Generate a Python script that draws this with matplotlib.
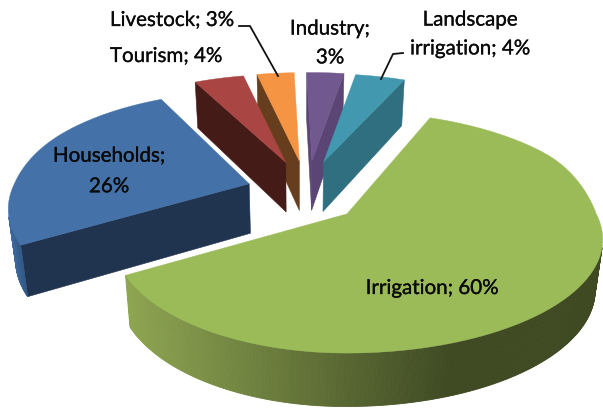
import numpy as np
import matplotlib
matplotlib.use("Agg")
import matplotlib.pyplot as plt
import matplotlib.patheffects as pe

categories = ["Irrigation", "Households", "Tourism", "Livestock", "Industry", "Landscape irrigation"]
values = [60, 26, 4, 3, 3, 4]
explode = [0.24, 0.24, 0.32, 0.32, 0.32, 0.32]

top_colors = ["#9bbb59", "#4371a8", "#a94644", "#f59443", "#71588f", "#4198af"]
cut_colors = ["#5f7530", "#20344f", "#451b18", "#663e1d", "#5a4575", "#2f6f80"]
# rim gradient in screen x: left colour, right colour, x range
rim_left = ["#8ea551", "#3f6da3", "#451b18", "#663e1d", "#5a4575", "#2f6f80"]
rim_right = ["#3f4a23", "#2a4a70", "#451b18", "#663e1d", "#5a4575", "#2f6f80"]
rim_range = [(125, 450), (6, 30), (0, 1), (0, 1), (0, 1), (0, 1)]
# small corrections per slice, the picture is not a clean projection
back_lift = [14, 4, 0, 0, 0, 0]
nudge_x = [-3, -1, 5, 3, 2, -2]
nudge_y = [3, -2, 0, 0, 0, 0]
stretch_right = [1.03, 1, 1, 1, 1, 1]
stretch_left = [0.94, 0.97, 1, 1, 1, 1]

# projection of the tilted pie, fitted by eye to the picture
center = (305, 193)
scale_x, scale_y, persp = 242, 108, 0.224
start_angle = 23.7
vanish_x = 300


def unit(phi):
    rad = np.radians(phi)
    return np.sin(rad), np.cos(rad)


def project(x, y):
    w = 1 / (1 + persp * y)
    return scale_x * x * w, -scale_y * y * w


def lower(pt):
    # same point on the bottom of the slab
    y_model = -pt[2]
    return (vanish_x + (pt[0] - vanish_x) * 0.975, pt[1] + 49.5 - 4 * y_model, pt[2])


def shoelace(poly):
    area = 0
    for i in range(len(poly)):
        a, b = poly[i], poly[(i + 1) % len(poly)]
        area += a[0] * b[1] - b[0] * a[1]
    return area


def mix(c0, c1, t):
    a = np.array(matplotlib.colors.to_rgb(c0))
    b = np.array(matplotlib.colors.to_rgb(c1))
    return tuple(a + (b - a) * np.clip(t, 0, 1))


fig = plt.figure(figsize=(6.03, 4.08), dpi=100)
ax = fig.add_axes([0, 0, 1, 1])
ax.set_xlim(0, 603)
ax.set_ylim(408, 0)
ax.axis("off")

fractions = np.cumsum([0] + values) / sum(values)

# back slices first, the big ones sit in front
for i in [3, 4, 2, 5, 1, 0]:
    phi0 = start_angle + 360 * fractions[i]
    phi1 = start_angle + 360 * fractions[i + 1]
    mx, my = unit((phi0 + phi1) / 2)
    ex, ey = project(mx * explode[i], my * explode[i])
    ax_, ay_ = center[0] + ex + nudge_x[i], center[1] + ey + nudge_y[i]

    rim = []
    for phi in np.linspace(phi0, phi1, max(int(phi1 - phi0), 4) * 2):
        x, y = unit(phi)
        dx, dy = project(x, y)
        dx *= stretch_right[i] if x > 0 else stretch_left[i]
        dy -= back_lift[i] * np.sin(np.pi / 2 * np.clip(y / 0.5, 0, 1))
        # third item keeps the model depth negated for the lower() helper
        rim.append((ax_ + dx, ay_ + dy, -y))
    apex = (ax_, ay_, 0.0)

    # straight cut faces
    for p, q in [(apex, rim[0]), (rim[-1], apex)]:
        quad = [p, q, lower(q), lower(p)]
        if shoelace(quad) < 0:
            ax.fill([c[0] for c in quad], [c[1] for c in quad], color=cut_colors[i], lw=0.4)

    # outer rim, one small quad per step for the gradient
    x0, x1 = rim_range[i]
    for p, q in zip(rim[:-1], rim[1:]):
        quad = [p, q, lower(q), lower(p)]
        if shoelace(quad) < 0:
            col = mix(rim_left[i], rim_right[i], ((p[0] + q[0]) / 2 - x0) / (x1 - x0))
            ax.fill([c[0] for c in quad], [c[1] for c in quad], color=col, lw=0.6)

    top = [apex] + rim
    ax.fill([c[0] for c in top], [c[1] for c in top], color=top_colors[i], lw=0.3)

text_kw = dict(family=["Lato", "DejaVu Sans"], fontsize=14.8, color="#0a0a0a", ha="center", va="center",
               path_effects=[pe.withStroke(linewidth=0.2, foreground="#0a0a0a")], zorder=5)

ax.text(432, 288, f"{categories[0]}; {values[0]}%", **text_kw)
ax.text(109, 171, f"{categories[1]};\n{values[1]}%", linespacing=1.66, **text_kw)
ax.text(166, 56, f"{categories[2]}; {values[2]}%", **text_kw)
ax.text(172, 20, f"{categories[3]}; {values[3]}%", **text_kw)
ax.text(330, 43, f"{categories[4]};\n{values[4]}%", linespacing=1.55, **text_kw)
ax.text(470, 34, f"Landscape\nirrigation; {values[5]}%", linespacing=1.55, **text_kw)

# leader lines
ax.plot([239, 250, 278], [26, 26, 76], color="#111111", lw=1.3, zorder=4)
ax.plot([403, 393, 381], [53, 54, 79], color="#111111", lw=1.3, zorder=4)

fig.savefig("out.png", dpi=100)
